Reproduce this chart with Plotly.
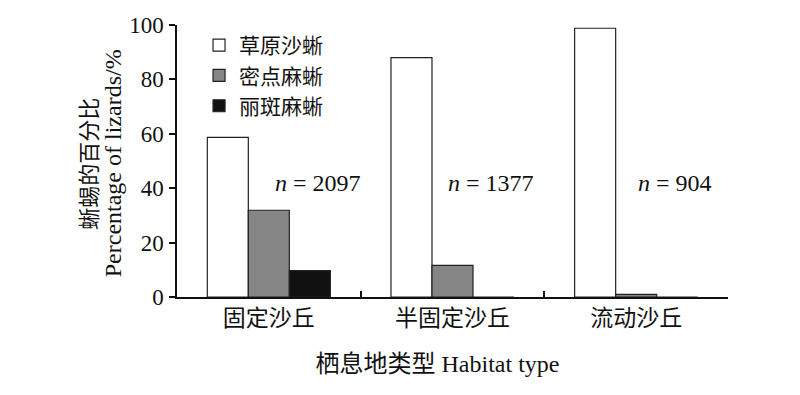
import plotly.graph_objects as go

categories = ["固定沙丘", "半固定沙丘", "流动沙丘"]
series_names = ["草原沙蜥", "密点麻蜥", "丽斑麻蜥"]
s1 = [58.7, 88.0, 98.8]
s2 = [31.9, 11.6, 1.0]
s3 = [9.7, 0.0, 0.0]
colors = ["#ffffff", "#858585", "#111111"]
n_labels = ["<i>n</i> = 2097", "<i>n</i> = 1377", "<i>n</i> = 904"]
n_offsets = [0.27, 0.21, 0.21]
n_y = [42, 42, 42]
yticks = [0, 20, 40, 60, 80, 100]

FONT = "Liberation Serif, Noto Sans CJK SC, serif"

fig = go.Figure()
for name, vals, col in zip(series_names, [s1, s2, s3], colors):
    fig.add_trace(go.Bar(
        x=categories, y=vals, name=name,
        marker=dict(color=col, line=dict(color="#222222", width=1.2)),
    ))

for i, (lab, off, yy) in enumerate(zip(n_labels, n_offsets, n_y)):
    fig.add_annotation(x=i + off, y=yy, xref="x", yref="y", text=lab,
                       showarrow=False, font=dict(family=FONT, size=24, color="#111"))

# two-line y-axis title
fig.add_annotation(x=-0.158, y=0.49, xref="paper", yref="paper", text="蜥蜴的百分比",
                   textangle=-90, showarrow=False, xanchor="center", yanchor="middle",
                   font=dict(family=FONT, size=22, color="#111"))
fig.add_annotation(x=-0.117, y=0.49, xref="paper", yref="paper", text="Percentage of lizards/%",
                   textangle=-90, showarrow=False, xanchor="center", yanchor="middle",
                   font=dict(family=FONT, size=24, color="#111"))

fig.update_layout(
    width=800, height=395,
    margin=dict(l=169, r=80, t=17, b=106, autoexpand=False),
    paper_bgcolor="white", plot_bgcolor="white",
    barmode="group", bargap=0.33, bargroupgap=0,
    font=dict(family=FONT, size=20, color="#111"),
    showlegend=True,
    legend=dict(x=0.04, y=1.0, xanchor="left", yanchor="top",
                bgcolor="rgba(0,0,0,0)", font=dict(size=21),
                tracegroupgap=0),
    xaxis=dict(
        type="category", showline=True, linecolor="#111", linewidth=1.5,
        ticks="inside", tickson="boundaries", ticklen=6, tickcolor="#111",
        tickwidth=1.5, showgrid=False, zeroline=False, automargin=False,
        tickfont=dict(size=23),
        title=dict(text="栖息地类型 Habitat type&nbsp;&nbsp;&nbsp;&nbsp;&nbsp;", font=dict(size=24), standoff=25),
    ),
    yaxis=dict(
        range=[0, 100], tickvals=yticks, showline=True, linecolor="#111",
        linewidth=1.5, ticks="outside", ticklen=6, tickcolor="#111", tickwidth=1.5,
        ticklabelstandoff=1, automargin=False,
        showgrid=False, zeroline=False, tickfont=dict(size=23),
    ),
)

fig.write_html("out.html")
